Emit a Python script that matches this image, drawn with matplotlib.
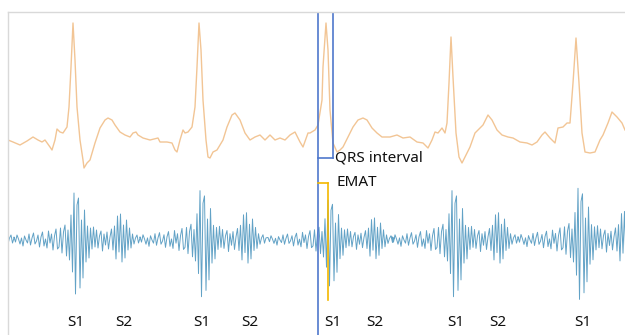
"""
ECG + heart sound (PCG) with QRS interval and EMAT markers.
Outputs: out.png
"""
import matplotlib
matplotlib.use('Agg')
import matplotlib.pyplot as plt
import numpy as np

# ECG trace (sample index, mV)
ECG_T = [8, 13, 20, 27, 33, 38, 42, 45, 50, 52, 55, 57, 60, 63, 67, 69, 71, 73, 75, 77,
         80, 83, 84, 87, 90, 95, 100, 105, 108, 112, 115, 120, 125, 130, 133, 136, 138, 143, 150, 158,
         160, 167, 172, 175, 177, 180, 183, 185, 188, 192, 195, 197, 199, 201, 203, 206, 208, 210, 213, 217,
         220, 223, 227, 232, 235, 240, 245, 250, 255, 260, 265, 270, 275, 280, 285, 290, 295, 300, 303, 308,
         310, 315, 318, 322, 323, 326, 328, 330, 333, 337, 340, 343, 348, 353, 358, 363, 367, 372, 377, 382,
         390, 397, 403, 410, 417, 423, 428, 432, 435, 438, 442, 445, 447, 449, 451, 453, 456, 459, 462, 465,
         470, 475, 480, 483, 488, 492, 497, 502, 508, 513, 520, 527, 532, 537, 542, 545, 550, 555, 558, 563,
         567, 570, 573, 576, 579, 582, 585, 590, 595, 600, 603, 608, 612, 617, 622, 625]
ECG_MV = [0.00, -0.02, -0.05, -0.01, 0.03, 0.00, -0.02, 0.00, -0.07, -0.10, 0.00, 0.11, 0.08, 0.07, 0.13, 0.33, 0.73, 1.17, 0.80, 0.33,
          0.00, -0.20, -0.28, -0.23, -0.20, -0.03, 0.12, 0.20, 0.22, 0.20, 0.15, 0.08, 0.05, 0.03, 0.07, 0.08, 0.05, 0.02, 0.00, 0.02,
          -0.02, -0.02, -0.03, -0.10, -0.12, 0.00, 0.10, 0.07, 0.08, 0.13, 0.33, 0.73, 1.17, 0.90, 0.40, 0.00, -0.17, -0.18, -0.12, -0.10,
          -0.05, 0.00, 0.13, 0.25, 0.27, 0.20, 0.07, 0.00, 0.03, 0.05, 0.00, 0.05, 0.00, 0.02, 0.00, 0.05, 0.08, -0.02, -0.07, 0.07,
          0.07, 0.10, 0.15, 0.40, 0.73, 1.17, 0.90, 0.30, -0.03, -0.12, -0.10, -0.07, 0.03, 0.13, 0.20, 0.22, 0.20, 0.12, 0.07, 0.03,
          0.03, 0.05, 0.02, 0.03, -0.02, -0.03, -0.08, 0.00, 0.08, 0.07, 0.12, 0.07, 0.17, 0.57, 1.03, 0.63, 0.07, -0.17, -0.23, -0.17,
          -0.07, 0.07, 0.12, 0.15, 0.25, 0.20, 0.10, 0.05, 0.03, 0.02, -0.02, -0.03, -0.05, -0.02, 0.05, 0.08, 0.02, -0.03, 0.12, 0.13,
          0.17, 0.17, 0.57, 1.02, 0.57, 0.07, -0.12, -0.13, -0.12, 0.00, 0.05, 0.17, 0.28, 0.23, 0.17, 0.10]

# PCG: one cardiac cycle around S1 (a.u.), every 1.5 samples, and where each S1 sits
PCG_PRE = [3, -2, 5, 1, -4, 2, -6, 4, 0, -3, 6, -5, 2, 7, -4, -1, 5, -7, 3, 8,
           -6, 1, -8, 9, -3, 6, -10, 4, 11, -9]
PCG_S1 = [-7, 12, -13, 8, 15, -16, 10, -20, 25, -32, 47, -54, 35, 42, -48, 20, -38, 30, -22, 14,
          -18, 12, -9, 13, -7]
PCG_MID = [10, -8, 4, 9, -11, 6, -5, 8, -9, 3, 11, -10]
PCG_S2 = [14, -19, 24, -12, 26, -22, 15, -18, 20, -10, 12, -8]
PCG_TAIL = [6, -4, 2, 5, -3, 2]
S1_POS = [-49, 77, 203, 331, 455, 581]
S1_GAIN = [1.0, 1.0, 1.05, 0.85, 1.05, 1.1]

# labels under the PCG
S1_LABEL_X = [76, 202, 333, 456, 583]
S2_LABEL_X = [124, 250, 375, 498]

# timing markers (sample index)
QRS_ON = 318
QRS_OFF = 333
S1_ONSET = 328

ECG_BASE, ECG_GAIN = 195, 100
PCG_BASE = 95

cycle = PCG_PRE + PCG_S1 + PCG_MID + PCG_S2 + PCG_TAIL
step = 1.5
half = (len(cycle) - 1) * step / 2
pcg_t, pcg_y = [], []
for pos, g in zip(S1_POS, S1_GAIN):
    for i, v in enumerate(cycle):
        pcg_t.append(pos - half + i * step)
        pcg_y.append(v * g)
pcg_t = np.array(pcg_t)
pcg_y = np.array(pcg_y)

fig = plt.figure(figsize=(6.25, 3.35), dpi=100)
fig.patch.set_facecolor('white')
ax = fig.add_axes([8 / 625, 0, 617 / 625, 323 / 335])
ax.set_xlim(8, 625)
ax.set_ylim(0, 323)

ax.plot(ECG_T, ECG_BASE + np.array(ECG_MV) * ECG_GAIN, color='#f2c595', lw=1.0)
ax.plot(pcg_t, PCG_BASE + pcg_y, color='#62a2c6', lw=0.7)

blue = '#4f78cc'
gold = '#f4b800'
txt = dict(fontsize=11, family='Noto Sans', color='#111111')
ax.axvline(QRS_ON, color=blue, lw=1.2)
ax.plot([QRS_OFF, QRS_OFF], [323, 177], color=blue, lw=1.2)
ax.plot([QRS_ON, QRS_OFF], [177, 177], color=blue, lw=1.2)
ax.text(QRS_OFF + 2, 177, 'QRS interval', va='center', ha='left', **txt)

ax.plot([QRS_ON, S1_ONSET], [152, 152], color=gold, lw=1.2)
ax.plot([S1_ONSET, S1_ONSET], [152, 35], color=gold, lw=1.2)
ax.text(QRS_OFF + 4, 152, 'EMAT', va='center', ha='left', **txt)

for x in S1_LABEL_X:
    ax.text(x, 13, 'S1', ha='center', va='center', **txt)
for x in S2_LABEL_X:
    ax.text(x, 13, 'S2', ha='center', va='center', **txt)

for side in ['right', 'bottom']:
    ax.spines[side].set_visible(False)
for side in ['left', 'top']:
    ax.spines[side].set_color('#d9d9d9')
    ax.spines[side].set_linewidth(1.0)
ax.set_xticks([])
ax.set_yticks([])

fig.savefig('out.png', dpi=100, facecolor='white')
